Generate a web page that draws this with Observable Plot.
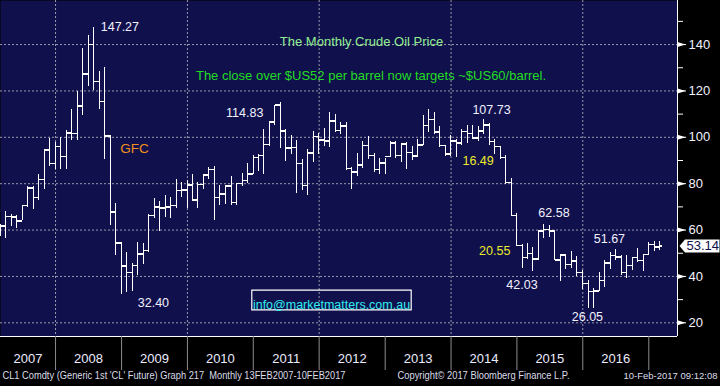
<!DOCTYPE html>
<html><head><meta charset="utf-8">
<script src="https://cdn.jsdelivr.net/npm/d3@7"></script>
<script src="https://cdn.jsdelivr.net/npm/@observablehq/plot@0.6"></script>
<style>
html,body{margin:0;padding:0;background:#000;overflow:hidden;}
</style>
</head><body><div id="chart"></div>
<script>
// Monthly OHLC, CL1 Comdty, Feb 2007 .. Feb 2017 (one value per month)
const open = [
  58.1, 61.8, 65.9, 65.7, 64.0, 70.7, 78.2, 74.0, 81.7, 94.5, 88.7,
  96.0, 91.8, 101.8, 101.6, 113.5, 127.4, 140.0, 124.1, 115.5, 100.6, 67.8, 54.4,
  44.6, 41.7, 44.8, 49.7, 51.1, 66.3, 69.9, 69.5, 70.0, 70.6, 77.0, 77.3,
  79.4, 72.9, 79.7, 83.8, 86.2, 74.0, 75.6, 79.0, 71.9, 80.0, 81.4, 84.1,
  91.4, 92.2, 97.0, 106.7, 113.9, 102.7, 95.4, 95.7, 88.8, 79.2, 93.2, 100.4,
  98.8, 98.5, 107.1, 103.0, 104.9, 86.5, 85.0, 88.1, 96.5, 92.2, 86.2, 88.9,
  91.8, 97.5, 92.1, 97.2, 93.5, 92.0, 96.6, 105.0, 107.7, 102.3, 96.4, 92.7,
  98.4, 97.5, 102.6, 101.6, 99.7, 102.7, 105.4, 98.2, 96.0, 91.2, 80.5, 66.2,
  53.3, 48.2, 49.8, 47.6, 59.6, 60.3, 59.5, 47.1, 49.2, 45.1, 46.6, 41.7,
  37.0, 33.6, 33.8, 38.3, 45.9, 49.1, 48.3, 41.6, 44.7, 48.2, 46.9, 49.4,
  53.7, 52.8
];
const high = [
  62.3, 68.1, 66.8, 66.1, 70.7, 78.8, 78.8, 83.9, 94.5, 99.3, 97.8,
  100.1, 103.0, 111.8, 119.9, 138.5, 143.7, 147.27, 128.5, 130.0, 100.8, 71.5, 54.7,
  50.5, 45.5, 54.7, 54.4, 66.7, 73.4, 72.3, 75.0, 74.0, 82.0, 80.5, 81.4,
  83.95, 80.5, 83.2, 87.1, 87.2, 79.2, 79.4, 82.9, 80.0, 84.4, 88.6, 92.1,
  92.6, 103.4, 107.0, 113.9, 114.83, 103.4, 100.6, 98.5, 90.5, 94.7, 102.4, 101.8,
  103.7, 110.55, 110.0, 106.2, 106.4, 86.9, 92.9, 98.3, 100.4, 93.0, 90.8, 91.0,
  98.2, 98.0, 97.4, 97.8, 96.1, 99.1, 109.3, 112.2, 110.7, 104.5, 96.4, 100.75,
  99.0, 103.3, 105.2, 105.0, 104.5, 107.73, 106.0, 98.9, 96.0, 92.2, 82.2, 67.0,
  53.6, 54.2, 52.5, 59.9, 62.58, 62.0, 59.6, 49.3, 49.5, 50.9, 48.4, 42.6,
  38.4, 34.8, 41.9, 46.8, 50.2, 51.67, 49.0, 49.0, 48.3, 51.9, 49.2, 54.5,
  55.2, 54.9
];
const low = [
  57.1, 56.5, 61.5, 60.6, 64.0, 69.8, 69.0, 72.9, 77.5, 87.5, 86.2,
  86.1, 86.1, 98.6, 98.7, 109.2, 122.0, 120.4, 112.0, 90.5, 62.0, 49.0, 32.4,
  33.2, 33.6, 40.5, 45.0, 50.5, 64.9, 59.5, 65.5, 65.1, 69.1, 74.0, 69.5,
  72.4, 69.5, 77.4, 82.0, 64.2, 70.8, 71.2, 70.8, 70.8, 79.0, 80.2, 84.0,
  85.1, 83.9, 96.0, 105.0, 95.0, 89.6, 92.8, 75.7, 77.1, 74.95, 89.2, 92.5,
  96.0, 95.8, 102.0, 101.0, 85.6, 77.3, 83.3, 86.7, 90.6, 84.9, 84.05, 84.1,
  91.8, 90.8, 89.3, 86.1, 90.1, 91.1, 96.3, 102.2, 101.4, 95.8, 91.8, 91.8,
  91.2, 96.6, 97.4, 98.9, 98.0, 101.2, 96.6, 92.5, 90.4, 79.8, 65.7, 52.7,
  43.6, 47.4, 42.03, 47.0, 56.5, 57.0, 46.7, 37.75, 43.2, 43.6, 40.0, 34.5,
  26.2, 26.05, 33.6, 35.2, 43.0, 46.7, 40.6, 39.2, 42.5, 46.0, 42.2, 49.0,
  50.7, 51.2
];
const close = [
  61.8, 65.9, 65.7, 64.0, 70.7, 78.2, 74.0, 81.7, 94.5, 88.7, 96.0,
  91.8, 101.8, 101.6, 113.5, 127.4, 140.0, 124.1, 115.5, 100.6, 67.8, 54.4, 44.6,
  41.7, 44.8, 49.7, 51.1, 66.3, 69.9, 69.5, 70.0, 70.6, 77.0, 77.3, 79.4,
  72.9, 79.7, 83.8, 86.2, 74.0, 75.6, 79.0, 71.9, 80.0, 81.4, 84.1, 91.4,
  92.2, 97.0, 106.7, 113.9, 102.7, 95.4, 95.7, 88.8, 79.2, 93.2, 100.4, 98.8,
  98.5, 107.1, 103.0, 104.9, 86.5, 85.0, 88.1, 96.5, 92.2, 86.2, 88.9, 91.8,
  97.5, 92.1, 97.2, 93.5, 92.0, 96.6, 105.0, 107.7, 102.3, 96.4, 92.7, 98.4,
  97.5, 102.6, 101.6, 99.7, 102.7, 105.4, 98.2, 96.0, 91.2, 80.5, 66.2, 53.3,
  48.2, 49.8, 47.6, 59.6, 60.3, 59.5, 47.1, 49.2, 45.1, 46.6, 41.7, 37.0,
  33.6, 33.8, 38.3, 45.9, 49.1, 48.3, 41.6, 44.7, 48.2, 46.9, 49.4, 53.7,
  52.8, 53.14
];

const firstYear = 2007, firstMonth = 2;           // series starts Feb 2007
const yearLabels = ["2007","2008","2009","2010","2011","2012","2013","2014","2015","2016"];
const yearTicks = [2008, 2009, 2010, 2011, 2012, 2013, 2014, 2015, 2016, 2017];
const gridYears = [2008, 2010, 2012, 2014, 2016];
const majorTicks = [20, 40, 60, 80, 100, 120, 140];
const minorTicks = [30, 50, 70, 90, 110, 130, 150];
const title = "The Monthly Crude Oil Price";
const subtitle = "The close over $US52 per barrel now targets ~$US60/barrel.";
const gfcLabel = "GFC";
const dropLabel = "16.49";
const infoLabel = "info@marketmatters.com.au";
const footLeft = "CL1 Comdty (Generic 1st 'CL' Future) Graph 217 \u00a0Monthly 13FEB2007-10FEB2017";
const footMid = "Copyright\u00a9 2017 Bloomberg Finance L.P.";
const footRight = "10-Feb-2017 09:12:08";

// ---------- build table ----------
const bars = open.map((o, i) => ({
  date: new Date(Date.UTC(firstYear, firstMonth - 1 + i + 1, 0)), // month end
  open: o, high: high[i], low: low[i], close: close[i]
}));
const bar = (y, m) => bars[(y - firstYear) * 12 + (m - firstMonth)];
const jan1 = y => new Date(Date.UTC(y, 0, 1));
const lastBar = bars[bars.length - 1];

const xDomain = [new Date(Date.UTC(2007, 2, 2)), new Date(Date.UTC(2017, 5, 9))];
const yDomain = [14.1, 159];
const yearMid = yearLabels.map(s => {
  const y = +s;
  const a = Math.max(+jan1(y), +xDomain[0]), b = +jan1(y + 1);
  return {label: s, date: new Date((a + b) / 2)};
});

const navy = "#10104c";
const grid = "#9a9aac";
const sans = "'Liberation Sans', Arial, Helvetica, sans-serif";

const openTick = {draw(c) { c.moveTo(-3, 0); c.lineTo(0, 0); }};
const closeTick = {draw(c) { c.moveTo(0, 0); c.lineTo(3, 0); }};
const arrowTick = {draw(c) { c.moveTo(0, -2.5); c.lineTo(8, 0); c.lineTo(0, 2.5); c.closePath(); }};
const flagShape = {draw(c) { c.moveTo(2, 0); c.lineTo(7.5, -6.5); c.lineTo(42, -6.5); c.lineTo(42, 6.5); c.lineTo(7.5, 6.5); c.closePath(); }};
const boxShape = {draw(c) { c.rect(-79.7, -9.8, 159.4, 19.6); }};

function num(b, field, opts) {
  return Plot.text([b], {x: "date", y: field, text: d => d[field].toFixed(2),
    fill: "#f2f2ff", fontSize: 12.5, fontFamily: sans, ...opts});
}

const a2015 = bar(2015, 5), b2015 = bar(2015, 3);

const plot = Plot.plot({
  width: 720, height: 386,
  marginLeft: 0, marginRight: 43, marginTop: 0, marginBottom: 50,
  style: {background: "#000", color: "#fff", fontFamily: sans, overflow: "visible"},
  x: {type: "utc", domain: xDomain},
  y: {domain: yDomain},
  marks: [
    Plot.frame({fill: navy, stroke: null}),
    Plot.ruleY(majorTicks, {stroke: grid, strokeDasharray: "2,2"}),
    Plot.ruleX(gridYears.map(jan1), {stroke: grid, strokeDasharray: "2,2"}),
    // OHLC bars
    Plot.ruleX(bars, {x: "date", y1: "low", y2: "high", stroke: "#fff", shapeRendering: "crispEdges"}),
    Plot.dot(bars, {x: "date", y: "open", symbol: openTick, fill: "none", stroke: "#fff", shapeRendering: "crispEdges"}),
    Plot.dot(bars, {x: "date", y: "close", symbol: closeTick, fill: "none", stroke: "#fff", shapeRendering: "crispEdges"}),
    // frame lines
    Plot.ruleX([xDomain[1]], {stroke: "#fff"}),
    Plot.ruleY([yDomain[0]], {stroke: "#fff"}),
    // right axis
    Plot.axisY({anchor: "right", ticks: majorTicks, tickSize: 8, tickPadding: 3, label: null,
      stroke: "#fff", fill: "#f2f2ff", fontSize: 13, fontFamily: sans}),
    Plot.axisY({anchor: "right", ticks: minorTicks, tickSize: 5, label: null,
      tickFormat: () => "", stroke: "#fff"}),
    Plot.dot(majorTicks, {x: () => xDomain[1], y: d => d, symbol: arrowTick, r: 3, fill: "#fff", stroke: "none"}),
    // last price flag
    Plot.dot([lastBar], {x: () => xDomain[1], y: "close", symbol: flagShape, r: 3, fill: "#fff", stroke: "none"}),
    Plot.text([lastBar], {x: () => xDomain[1], y: "close", text: d => d.close.toFixed(2), textAnchor: "start",
      dx: 9, fill: navy, fontSize: 13, fontFamily: sans}),
    // bottom axis
    Plot.axisX({anchor: "bottom", ticks: yearTicks.map(jan1), tickSize: 34, label: null,
      tickFormat: () => "", stroke: "#8c8c8c"}),
    Plot.text(yearMid, {x: "date", text: "label", frameAnchor: "bottom", dy: 26,
      fill: "#ececff", fontSize: 13, fontFamily: sans}),
    // titles
    Plot.text([title], {frameAnchor: "top", dx: 22.5, dy: 36, fill: "#90ee90", fontSize: 13, fontFamily: sans}),
    Plot.text([subtitle], {frameAnchor: "top", dx: 32, dy: 70, fill: "#22dd22", fontSize: 13, fontFamily: sans}),
    // value annotations
    num(bar(2008, 7), "high", {textAnchor: "start", dx: 7, dy: -1}),
    num(bar(2008, 12), "low", {dx: 32, dy: 9}),
    num(bar(2011, 5), "high", {textAnchor: "end", dx: -17, dy: 10}),
    num(bar(2014, 6), "high", {dx: 8, dy: -9}),
    num(a2015, "high", {dx: 10, dy: -11.5}),
    num(b2015, "low", {dx: -11, dy: 13}),
    num(bar(2016, 2), "low", {dx: -6, dy: 8}),
    num(bar(2016, 6), "high", {dx: -6, dy: -10.5}),
    Plot.text([bar(2008, 10)], {x: "date", y: "high", text: () => gfcLabel, dx: 24, dy: 13,
      fill: "#f0901e", fontSize: 13.5, fontFamily: sans}),
    Plot.text([bar(2014, 9)], {x: "date", y: "close", text: () => dropLabel, dx: -22, dy: 3.5,
      fill: "#ecec28", fontSize: 12.5, fontFamily: sans}),
    Plot.text([bar(2014, 12)], {x: "date", y: "close", text: () => (a2015.high - b2015.low).toFixed(2),
      dx: -22, dy: 5, fill: "#ecec28", fontSize: 12.5, fontFamily: sans}),
    // e-mail box
    Plot.dot([infoLabel], {frameAnchor: "top", dx: -7.5, dy: 299.5, symbol: boxShape, r: 3,
      fill: "none", stroke: "#fff", strokeWidth: 1.2}),
    Plot.text([infoLabel], {frameAnchor: "top", dx: -7.5, dy: 299.5, fill: "#30eeee",
      fontSize: 12.5, fontFamily: sans}),
    // footer
    Plot.text([footLeft], {frameAnchor: "bottom-left", textAnchor: "start", dx: 2, dy: 42,
      fill: "#dcdcea", fontSize: 10.5, fontFamily: sans}),
    Plot.text([footMid], {frameAnchor: "bottom-left", textAnchor: "start", dx: 397, dy: 42,
      fill: "#dcdcea", fontSize: 10.5, fontFamily: sans}),
    Plot.text([footRight], {frameAnchor: "bottom-right", textAnchor: "end", dx: 40, dy: 42,
      fill: "#dcdcea", fontSize: 9.5, fontFamily: sans})
  ]
});
document.getElementById("chart").append(plot);

// condense the two long footer texts to the widths they occupy in the Bloomberg font
const widths = new Map([[footLeft, 343], [footMid, 172]]);
plot.querySelectorAll("text").forEach(t => {
  const w = widths.get(t.textContent);
  if (w) { t.setAttribute("textLength", w); t.setAttribute("lengthAdjust", "spacingAndGlyphs"); }
});
</script>
</body></html>
